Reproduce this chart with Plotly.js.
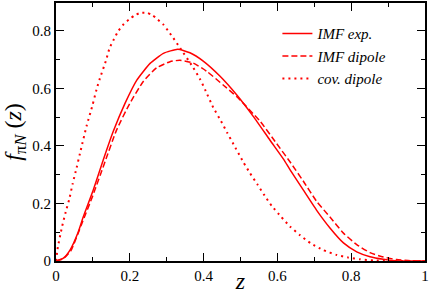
<!DOCTYPE html>
<html>
<head>
<meta charset="utf-8">
<script src="https://cdn.plot.ly/plotly-3.0.1.min.js"></script>
<style>html,body{margin:0;padding:0;background:#fff;}#chart{width:431px;height:294px;}</style>
</head>
<body>
<div id="chart"></div>
<script>
// IMF exp. (solid)
const expX = [0, 0.02, 0.038, 0.06, 0.074, 0.101, 0.128, 0.155, 0.187, 0.219, 0.255, 0.291, 0.33, 0.363, 0.399, 0.444, 0.49, 0.535, 0.58, 0.616, 0.634, 0.67, 0.706, 0.743, 0.779, 0.815, 0.851, 0.887, 0.92, 0.96, 1.0];
const expY = [0, 0.01, 0.038, 0.10, 0.154, 0.247, 0.351, 0.450, 0.548, 0.629, 0.687, 0.722, 0.736, 0.724, 0.695, 0.643, 0.577, 0.502, 0.42, 0.355, 0.318, 0.247, 0.177, 0.114, 0.063, 0.032, 0.015, 0.006, 0.001, 0, 0];
// IMF dipole (dashed)
const dipX = [0, 0.02, 0.04, 0.07, 0.1, 0.13, 0.164, 0.2, 0.237, 0.273, 0.309, 0.336, 0.372, 0.408, 0.453, 0.49, 0.553, 0.598, 0.634, 0.67, 0.706, 0.743, 0.779, 0.815, 0.851, 0.887, 0.923, 0.96, 1.0];
const dipY = [0, 0.008, 0.035, 0.13, 0.228, 0.335, 0.455, 0.548, 0.625, 0.672, 0.693, 0.698, 0.688, 0.660, 0.612, 0.571, 0.486, 0.408, 0.345, 0.278, 0.208, 0.152, 0.097, 0.057, 0.029, 0.014, 0.005, 0.001, 0];
// cov. dipole (dotted)
const covX = [0, 0.005, 0.016, 0.026, 0.036, 0.045, 0.056, 0.067, 0.083, 0.099, 0.110, 0.119, 0.136, 0.145, 0.157, 0.169, 0.184, 0.198, 0.214, 0.230, 0.246, 0.261, 0.275, 0.291, 0.304, 0.318, 0.334, 0.372, 0.390, 0.404, 0.426, 0.447, 0.464, 0.481, 0.508, 0.526, 0.546, 0.565, 0.585, 0.610, 0.634, 0.661, 0.690, 0.724, 0.761, 0.792, 0.824, 0.86, 0.9, 0.95, 1.0];
const covY = [0, 0.048, 0.117, 0.169, 0.215, 0.268, 0.325, 0.385, 0.470, 0.542, 0.597, 0.635, 0.699, 0.740, 0.771, 0.800, 0.824, 0.840, 0.855, 0.863, 0.863, 0.855, 0.840, 0.822, 0.800, 0.775, 0.745, 0.672, 0.633, 0.596, 0.534, 0.487, 0.446, 0.406, 0.343, 0.305, 0.266, 0.228, 0.191, 0.154, 0.120, 0.090, 0.062, 0.038, 0.021, 0.012, 0.006, 0.002, 0, 0, 0];

const names = ['IMF exp.', 'IMF dipole', 'cov. dipole'];
const red = '#ff0000';

const traces = [
  {x: expX, y: expY, name: '<i>' + names[0] + '</i>', mode: 'lines', line: {color: red, width: 1.5, shape: 'spline', smoothing: 0.5}},
  {x: dipX, y: dipY, name: '<i>' + names[1] + '</i>', mode: 'lines', line: {color: red, width: 1.5, dash: '6px,3px', shape: 'spline', smoothing: 0.5}},
  {x: covX, y: covY, name: '<i>' + names[2] + '</i>', mode: 'lines', line: {color: red, width: 2, dash: '2px,4px', shape: 'spline', smoothing: 0.5}}
];

const serif = 'Liberation Serif';
const axisCommon = {
  showline: true, mirror: 'allticks', linecolor: '#000', linewidth: 2,
  ticks: 'inside', ticklen: 8, tickwidth: 1, tickcolor: '#000',
  showgrid: false, zeroline: false,
  tickfont: {family: serif, size: 15, color: '#000'},
  minor: {ticks: 'inside', ticklen: 4, tickwidth: 1, tickcolor: '#000', dtick: 0.1, showgrid: false}
};

const layout = {
  width: 431, height: 294,
  margin: {l: 56, r: 6, t: 3, b: 33},
  paper_bgcolor: '#fff', plot_bgcolor: '#fff',
  showlegend: true,
  font: {family: serif, color: '#000'},
  legend: {x: 0.6, y: 0.945, xanchor: 'left', yanchor: 'top', bgcolor: 'rgba(0,0,0,0)',
           font: {family: serif, size: 15, color: '#000'}, tracegroupgap: 0},
  xaxis: Object.assign({}, axisCommon, {
    range: [0, 1], tick0: 0, dtick: 0.2,
    title: {text: '<i>z</i>', font: {family: serif, size: 24, color: '#000'}, standoff: 0}
  }),
  yaxis: Object.assign({}, axisCommon, {
    range: [0, 0.897], tick0: 0, dtick: 0.2,
    title: {text: '<i>f</i><sub>π<i>N</i></sub> (<i>z</i>)', font: {family: serif, size: 24, color: '#000'}, standoff: 4}
  })
};

Plotly.newPlot('chart', traces, layout, {displayModeBar: false, staticPlot: true});
</script>
</body>
</html>
